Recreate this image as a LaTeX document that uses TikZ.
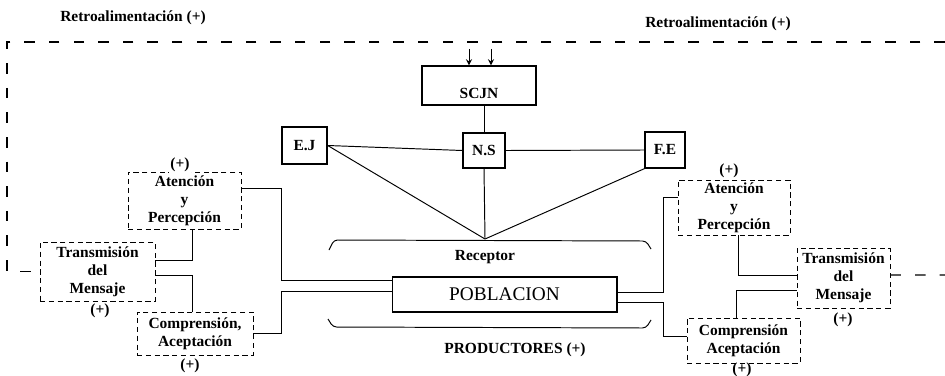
\documentclass[tikz,border=0pt]{standalone}
\usepackage{fontspec}
\setmainfont{Liberation Serif}
\tikzset{
  lbl/.style={font=\bfseries\fontsize{8.8}{10.2}\selectfont, inner sep=1pt},
  solidbox/.style={draw, line width=0.8pt, lbl},
  stagebox/.style={draw, densely dashed, line width=0.5pt, lbl, align=center},
  plus/.style={lbl, fill=white},
  feedback/.style={dash pattern=on 6pt off 8pt, line width=0.6pt},
  wire/.style={line width=0.55pt}
}
\begin{document}
\begin{tikzpicture}[x=0.02cm, y=-0.02cm, >=stealth]
\useasboundingbox (0,0) rectangle (945,375);

\node[solidbox, minimum width=2.28cm, minimum height=0.78cm,
  label={[lbl, anchor=south, yshift=3pt]south:SCJN}] (scjn) at (479,85.5) {};
\node[solidbox, minimum width=0.9cm, minimum height=0.74cm] (ej) at (304.5,145.5) {E.J};
\node[solidbox, minimum width=0.84cm, minimum height=0.7cm] (ns) at (484,150.5) {N.S};
\node[solidbox, minimum width=0.8cm, minimum height=0.72cm] (fe) at (665,150) {F.E};
\node[draw, line width=0.6pt, minimum width=4.5cm, minimum height=0.7cm,
  font=\fontsize{11}{12}\selectfont] (pobl) at (504.5,294.5) {POBLACION};

\node[stagebox, minimum width=2.26cm, minimum height=1.14cm] (atenL) at (184.5,200.5) {Atención\\y\\Percepción};
\node[stagebox, minimum width=2.3cm, minimum height=1.18cm] (tranL) at (97.5,271.5) {Transmisión\\del\\Mensaje};
\node[stagebox, minimum width=2.32cm, minimum height=0.86cm] (compL) at (195,333.5) {Comprensión,\\Aceptación};
\node[stagebox, minimum width=2.24cm, minimum height=1.1cm] (atenR) at (734,207.5) {Atención\\y\\Percepción};
\node[stagebox, minimum width=1.86cm, minimum height=1.2cm] (tranR) at (843.5,278) {Transmisión\\del\\Mensaje};
\node[stagebox, minimum width=2.26cm, minimum height=0.9cm] (compR) at (743.5,340.5) {Comprensión\\Aceptación};

\node[plus] (plAL) at (180,165) {(+)};
\node[lbl] (plTL) at (100,311) {(+)};
\node[lbl] (plCL) at (190,366) {(+)};
\node[plus] (plAR) at (729,171) {(+)};
\node[lbl] (plTR) at (843,320) {(+)};
\node[lbl] (plCR) at (742,370) {(+)};

\node[lbl] (fbtxtL) at (133,18) {Retroalimentación (+)};
\node[lbl] (fbtxtR) at (718,24) {Retroalimentación (+)};
\node[lbl] (rectxt) at (485,257) {Receptor};
\node[lbl] (prodtxt) at (515,350) {PRODUCTORES (+)};

\coordinate (fbTL) at (7,42);
\coordinate (fbTR) at (945,42);
\coordinate (fbR) at (945,275);
\coordinate (in1) at (469,49);
\coordinate (in2) at (491,49);
\coordinate (rec) at (485,239);
\coordinate (busL) at (281,0);
\coordinate (busR) at (663,0);
\coordinate (pL1) at ([yshift=.29cm]pobl.west);
\coordinate (pL2) at ([yshift=.07cm]pobl.west);
\coordinate (pR1) at ([yshift=.05cm]pobl.east);
\coordinate (pR2) at ([yshift=-.15cm]pobl.east);
\coordinate (aR) at ([yshift=.21cm]atenR.west);
\coordinate (cR) at ([yshift=.09cm]compR.west);

\draw[feedback] (fbTR) -- (fbTL) |- (tranL.west);
\draw[feedback] ([yshift=.06cm]tranR.east) -- (fbR);
\draw[->, wire] (in1) -- (in1 |- scjn.north);
\draw[->, wire] (in2) -- (in2 |- scjn.north);

\draw[wire] (ns.north) -- (ns.north |- scjn.south);
\draw[wire] (ej.east) -- (ns.west);
\draw[wire] (ns.east) -- (fe.west);
\draw[wire] (ej.east) -- (rec);
\draw[wire] (ns.south) -- (rec);
\draw[wire] (fe.south west) -- (rec);

\draw[wire, rounded corners=2pt] (329,250) -- (334,240) -- (646,241) -- (651,249);
\draw[wire, rounded corners=2pt] (328,319) -- (333,327) -- (646,328) -- (651,320);

\draw[wire] ([yshift=.25cm]atenL.east) -| (busL |- pL1) -- (pL1);
\draw[wire] (compL.east) -| (busL |- pL2) -- (pL2);
\draw[wire] ([xshift=.15cm]atenL.south) |- ([yshift=.23cm]tranL.east);
\draw[wire] ([yshift=-.07cm]tranL.east) -| ([xshift=-.06cm]compL.north);

\draw[wire] (pR1) -| (busR |- aR) -- (aR);
\draw[wire] (pR2) -| (busR |- cR) -- (cR);
\draw[wire] ([xshift=.08cm]atenR.south) |- ([yshift=.06cm]tranR.west);
\draw[wire] ([yshift=-.24cm]tranR.west) -| ([xshift=-.15cm]compR.north);
\end{tikzpicture}
\end{document}
